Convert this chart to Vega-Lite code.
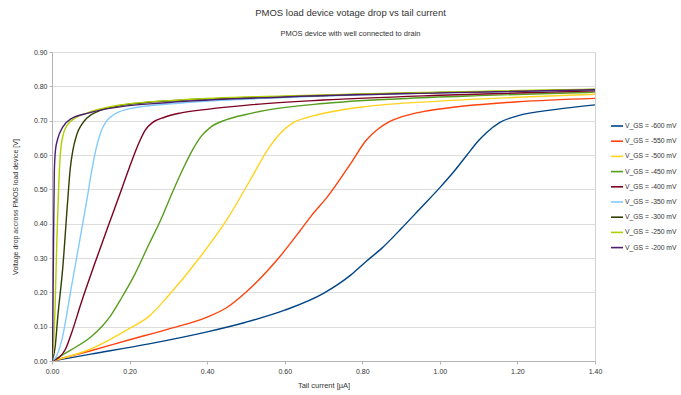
{
"$schema": "https://vega.github.io/schema/vega-lite/v6.json",
"width": 543, "height": 309,
"autosize": "none",
"padding": {"left": 52, "top": 52, "right": 86, "bottom": 34},
"background": "white",
"title": {"text": "PMOS load device votage drop vs tail current", "subtitle": "PMOS device with well connected to drain", "font": "Liberation Sans", "fontSize": 9.5, "fontWeight": "normal", "subtitleFont": "Liberation Sans", "subtitleFontSize": 7.5, "color": "#333333", "subtitleColor": "#333333", "offset": 11, "subtitlePadding": 12, "dx": 27, "anchor": "middle"},
"config": {"view": {"stroke": "#d0d0d0"}, "font": "Liberation Sans"},
"data": {"values": [
{"s":"V_GS = -600 mV","x":0,"y":0},{"s":"V_GS = -600 mV","x":0.1,"y":0.02},{"s":"V_GS = -600 mV","x":0.25,"y":0.05},{"s":"V_GS = -600 mV","x":0.4,"y":0.085},{"s":"V_GS = -600 mV","x":0.5,"y":0.113},{"s":"V_GS = -600 mV","x":0.6,"y":0.148},{"s":"V_GS = -600 mV","x":0.7,"y":0.197},{"s":"V_GS = -600 mV","x":0.77,"y":0.25},{"s":"V_GS = -600 mV","x":0.81,"y":0.29},{"s":"V_GS = -600 mV","x":0.85,"y":0.328},{"s":"V_GS = -600 mV","x":0.9,"y":0.385},{"s":"V_GS = -600 mV","x":0.95,"y":0.445},{"s":"V_GS = -600 mV","x":1.0,"y":0.505},{"s":"V_GS = -600 mV","x":1.04,"y":0.557},{"s":"V_GS = -600 mV","x":1.07,"y":0.6},{"s":"V_GS = -600 mV","x":1.1,"y":0.642},{"s":"V_GS = -600 mV","x":1.12,"y":0.665},{"s":"V_GS = -600 mV","x":1.155,"y":0.695},{"s":"V_GS = -600 mV","x":1.2,"y":0.714},{"s":"V_GS = -600 mV","x":1.3,"y":0.733},{"s":"V_GS = -600 mV","x":1.4,"y":0.746},
{"s":"V_GS = -550 mV","x":0,"y":0},{"s":"V_GS = -550 mV","x":0.1,"y":0.03},{"s":"V_GS = -550 mV","x":0.2,"y":0.062},{"s":"V_GS = -550 mV","x":0.3,"y":0.093},{"s":"V_GS = -550 mV","x":0.4,"y":0.128},{"s":"V_GS = -550 mV","x":0.45,"y":0.155},{"s":"V_GS = -550 mV","x":0.5,"y":0.2},{"s":"V_GS = -550 mV","x":0.58,"y":0.294},{"s":"V_GS = -550 mV","x":0.64,"y":0.38},{"s":"V_GS = -550 mV","x":0.67,"y":0.425},{"s":"V_GS = -550 mV","x":0.71,"y":0.478},{"s":"V_GS = -550 mV","x":0.77,"y":0.575},{"s":"V_GS = -550 mV","x":0.81,"y":0.643},{"s":"V_GS = -550 mV","x":0.84,"y":0.675},{"s":"V_GS = -550 mV","x":0.87,"y":0.697},{"s":"V_GS = -550 mV","x":0.92,"y":0.717},{"s":"V_GS = -550 mV","x":0.96,"y":0.727},{"s":"V_GS = -550 mV","x":1.02,"y":0.737},{"s":"V_GS = -550 mV","x":1.2,"y":0.755},{"s":"V_GS = -550 mV","x":1.4,"y":0.765},
{"s":"V_GS = -500 mV","x":0,"y":0},{"s":"V_GS = -500 mV","x":0.1,"y":0.035},{"s":"V_GS = -500 mV","x":0.2,"y":0.095},{"s":"V_GS = -500 mV","x":0.25,"y":0.13},{"s":"V_GS = -500 mV","x":0.3,"y":0.19},{"s":"V_GS = -500 mV","x":0.38,"y":0.3},{"s":"V_GS = -500 mV","x":0.45,"y":0.41},{"s":"V_GS = -500 mV","x":0.51,"y":0.525},{"s":"V_GS = -500 mV","x":0.56,"y":0.622},{"s":"V_GS = -500 mV","x":0.59,"y":0.665},{"s":"V_GS = -500 mV","x":0.62,"y":0.693},{"s":"V_GS = -500 mV","x":0.66,"y":0.71},{"s":"V_GS = -500 mV","x":0.72,"y":0.726},{"s":"V_GS = -500 mV","x":0.8,"y":0.74},{"s":"V_GS = -500 mV","x":1.0,"y":0.757},{"s":"V_GS = -500 mV","x":1.2,"y":0.768},{"s":"V_GS = -500 mV","x":1.4,"y":0.777},
{"s":"V_GS = -450 mV","x":0,"y":0},{"s":"V_GS = -450 mV","x":0.05,"y":0.033},{"s":"V_GS = -450 mV","x":0.1,"y":0.07},{"s":"V_GS = -450 mV","x":0.125,"y":0.096},{"s":"V_GS = -450 mV","x":0.15,"y":0.13},{"s":"V_GS = -450 mV","x":0.18,"y":0.185},{"s":"V_GS = -450 mV","x":0.21,"y":0.245},{"s":"V_GS = -450 mV","x":0.25,"y":0.34},{"s":"V_GS = -450 mV","x":0.28,"y":0.41},{"s":"V_GS = -450 mV","x":0.31,"y":0.49},{"s":"V_GS = -450 mV","x":0.34,"y":0.565},{"s":"V_GS = -450 mV","x":0.365,"y":0.62},{"s":"V_GS = -450 mV","x":0.385,"y":0.655},{"s":"V_GS = -450 mV","x":0.41,"y":0.682},{"s":"V_GS = -450 mV","x":0.45,"y":0.703},{"s":"V_GS = -450 mV","x":0.5,"y":0.718},{"s":"V_GS = -450 mV","x":0.55,"y":0.73},{"s":"V_GS = -450 mV","x":0.7,"y":0.75},{"s":"V_GS = -450 mV","x":0.9,"y":0.764},{"s":"V_GS = -450 mV","x":1.1,"y":0.773},{"s":"V_GS = -450 mV","x":1.4,"y":0.783},
{"s":"V_GS = -400 mV","x":0,"y":0},{"s":"V_GS = -400 mV","x":0.02,"y":0.012},{"s":"V_GS = -400 mV","x":0.035,"y":0.035},{"s":"V_GS = -400 mV","x":0.05,"y":0.08},{"s":"V_GS = -400 mV","x":0.076,"y":0.172},{"s":"V_GS = -400 mV","x":0.11,"y":0.283},{"s":"V_GS = -400 mV","x":0.144,"y":0.39},{"s":"V_GS = -400 mV","x":0.171,"y":0.474},{"s":"V_GS = -400 mV","x":0.2,"y":0.565},{"s":"V_GS = -400 mV","x":0.215,"y":0.61},{"s":"V_GS = -400 mV","x":0.228,"y":0.645},{"s":"V_GS = -400 mV","x":0.24,"y":0.672},{"s":"V_GS = -400 mV","x":0.26,"y":0.695},{"s":"V_GS = -400 mV","x":0.29,"y":0.71},{"s":"V_GS = -400 mV","x":0.33,"y":0.722},{"s":"V_GS = -400 mV","x":0.4,"y":0.733},{"s":"V_GS = -400 mV","x":0.51,"y":0.746},{"s":"V_GS = -400 mV","x":0.7,"y":0.76},{"s":"V_GS = -400 mV","x":1.0,"y":0.774},{"s":"V_GS = -400 mV","x":1.4,"y":0.787},
{"s":"V_GS = -350 mV","x":0,"y":0},{"s":"V_GS = -350 mV","x":0.012,"y":0.015},{"s":"V_GS = -350 mV","x":0.025,"y":0.06},{"s":"V_GS = -350 mV","x":0.05,"y":0.215},{"s":"V_GS = -350 mV","x":0.076,"y":0.38},{"s":"V_GS = -350 mV","x":0.09,"y":0.47},{"s":"V_GS = -350 mV","x":0.101,"y":0.545},{"s":"V_GS = -350 mV","x":0.115,"y":0.625},{"s":"V_GS = -350 mV","x":0.127,"y":0.67},{"s":"V_GS = -350 mV","x":0.14,"y":0.698},{"s":"V_GS = -350 mV","x":0.16,"y":0.718},{"s":"V_GS = -350 mV","x":0.21,"y":0.737},{"s":"V_GS = -350 mV","x":0.34,"y":0.752},{"s":"V_GS = -350 mV","x":0.51,"y":0.763},{"s":"V_GS = -350 mV","x":0.8,"y":0.775},{"s":"V_GS = -350 mV","x":1.0,"y":0.781},{"s":"V_GS = -350 mV","x":1.4,"y":0.79},
{"s":"V_GS = -300 mV","x":0,"y":0},{"s":"V_GS = -300 mV","x":0.008,"y":0.04},{"s":"V_GS = -300 mV","x":0.015,"y":0.13},{"s":"V_GS = -300 mV","x":0.028,"y":0.275},{"s":"V_GS = -300 mV","x":0.04,"y":0.46},{"s":"V_GS = -300 mV","x":0.047,"y":0.56},{"s":"V_GS = -300 mV","x":0.054,"y":0.615},{"s":"V_GS = -300 mV","x":0.064,"y":0.66},{"s":"V_GS = -300 mV","x":0.076,"y":0.688},{"s":"V_GS = -300 mV","x":0.09,"y":0.708},{"s":"V_GS = -300 mV","x":0.12,"y":0.728},{"s":"V_GS = -300 mV","x":0.167,"y":0.742},{"s":"V_GS = -300 mV","x":0.34,"y":0.76},{"s":"V_GS = -300 mV","x":0.51,"y":0.767},{"s":"V_GS = -300 mV","x":0.8,"y":0.777},{"s":"V_GS = -300 mV","x":1.0,"y":0.782},{"s":"V_GS = -300 mV","x":1.4,"y":0.791},
{"s":"V_GS = -250 mV","x":0,"y":0},{"s":"V_GS = -250 mV","x":0.004,"y":0.05},{"s":"V_GS = -250 mV","x":0.008,"y":0.16},{"s":"V_GS = -250 mV","x":0.012,"y":0.33},{"s":"V_GS = -250 mV","x":0.016,"y":0.47},{"s":"V_GS = -250 mV","x":0.021,"y":0.595},{"s":"V_GS = -250 mV","x":0.028,"y":0.655},{"s":"V_GS = -250 mV","x":0.04,"y":0.688},{"s":"V_GS = -250 mV","x":0.064,"y":0.71},{"s":"V_GS = -250 mV","x":0.1,"y":0.726},{"s":"V_GS = -250 mV","x":0.167,"y":0.744},{"s":"V_GS = -250 mV","x":0.34,"y":0.761},{"s":"V_GS = -250 mV","x":0.6,"y":0.772},{"s":"V_GS = -250 mV","x":1.0,"y":0.783},{"s":"V_GS = -250 mV","x":1.4,"y":0.792},
{"s":"V_GS = -200 mV","x":0,"y":0},{"s":"V_GS = -200 mV","x":0.002,"y":0.1},{"s":"V_GS = -200 mV","x":0.004,"y":0.35},{"s":"V_GS = -200 mV","x":0.006,"y":0.55},{"s":"V_GS = -200 mV","x":0.009,"y":0.615},{"s":"V_GS = -200 mV","x":0.015,"y":0.648},{"s":"V_GS = -200 mV","x":0.028,"y":0.682},{"s":"V_GS = -200 mV","x":0.05,"y":0.706},{"s":"V_GS = -200 mV","x":0.093,"y":0.722},{"s":"V_GS = -200 mV","x":0.144,"y":0.735},{"s":"V_GS = -200 mV","x":0.3,"y":0.753},{"s":"V_GS = -200 mV","x":0.6,"y":0.769},{"s":"V_GS = -200 mV","x":1.0,"y":0.781},{"s":"V_GS = -200 mV","x":1.4,"y":0.79}
]},
"mark": {"type": "line", "interpolate": "monotone", "strokeWidth": 1.4, "clip": true},
"encoding": {
"x": {"field": "x", "type": "quantitative", "scale": {"domain": [0, 1.4], "nice": false, "zero": true},
"axis": {"title": "Tail current [µA]", "values": [0, 0.2, 0.4, 0.6, 0.8, 1.0, 1.2, 1.4], "format": ".2f", "grid": false, "labelFlush": false, "labelFontSize": 7, "labelColor": "#333333", "titleFontSize": 7.5, "titleFontWeight": "normal", "titleColor": "#333333", "titlePadding": 7, "domainColor": "#b3b3b3", "tickColor": "#b3b3b3", "tickSize": 3, "labelPadding": 3}},
"y": {"field": "y", "type": "quantitative", "scale": {"domain": [0, 0.9], "nice": false},
"axis": {"title": "Voltage drop accross PMOS load device [V]", "values": [0, 0.1, 0.2, 0.3, 0.4, 0.5, 0.6, 0.7, 0.8, 0.9], "format": ".2f", "grid": true, "labelFlush": false, "gridColor": "#dddddd", "labelFontSize": 7, "labelColor": "#333333", "titleFontSize": 7, "titleFontWeight": "normal", "titleColor": "#333333", "titlePadding": 15, "domainColor": "#b3b3b3", "tickColor": "#b3b3b3", "tickSize": 3, "labelPadding": 2}},
"color": {"field": "s", "type": "nominal",
"scale": {"domain": ["V_GS = -600 mV", "V_GS = -550 mV", "V_GS = -500 mV", "V_GS = -450 mV", "V_GS = -400 mV", "V_GS = -350 mV", "V_GS = -300 mV", "V_GS = -250 mV", "V_GS = -200 mV"],
"range": ["#004586", "#ff420e", "#ffd320", "#579d1c", "#7e0021", "#83caff", "#314004", "#aecf00", "#4b1f6f"]},
"legend": {"title": null, "orient": "none", "legendX": 558, "legendY": 67, "symbolType": "stroke", "symbolSize": 144, "symbolStrokeWidth": 1.6, "labelFontSize": 6.8, "labelColor": "#333333", "rowPadding": 4.2, "labelOffset": 1, "labelLimit": 200}}
}
}
